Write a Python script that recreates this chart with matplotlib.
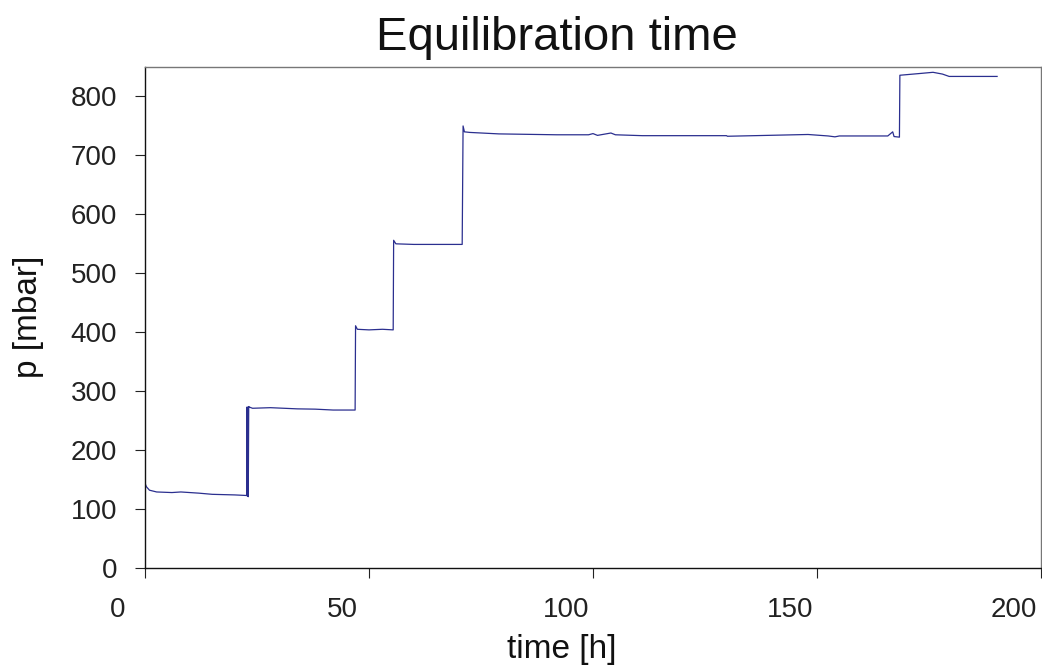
import matplotlib
matplotlib.use("Agg")
import matplotlib.pyplot as plt
import matplotlib.transforms as mtransforms

plt.rcParams['font.family'] = ['Liberation Sans', 'DejaVu Sans']

time_h = [0.0, 0.3, 1.0, 2.6, 6.0, 8.0, 12.0, 15.0, 20.0, 22.7,
          22.75, 22.85, 22.95, 23.05, 23.15, 23.3,
          24.0, 28.0, 34.0, 38.0, 42.0, 46.9,
          47.0, 47.4, 50.0, 53.0, 55.4,
          55.5, 56.0, 60.0, 66.0, 70.8,
          71.0, 71.3, 72.5, 79.0, 91.9, 99.0, 100.0, 101.0, 104.0, 105.0,
          111.0, 129.8, 130.0, 148.0, 152.5, 154.0, 155.0, 165.8, 166.9,
          167.2, 168.4,
          168.5, 170.0, 173.0, 175.9, 178.0, 179.5, 190.2]
pressure_mbar = [144, 138, 132, 129, 128, 129, 127, 125, 124, 123,
                 273, 122, 273, 121, 274, 273,
                 271, 272, 270, 269.5, 268, 268,
                 411, 405, 404, 405, 404,
                 556, 550, 549, 549, 549,
                 750, 740, 739, 736.5, 735, 735, 737, 734, 738, 735,
                 733.5, 733.5, 732.5, 735.5, 733, 731.5, 733, 733, 740,
                 732, 731,
                 836, 837, 839, 841, 838, 834, 834]

x_ticks = [0, 50, 100, 150, 200]
y_ticks = [0, 100, 200, 300, 400, 500, 600, 700, 800]

fig = plt.figure(figsize=(10.42, 6.67), dpi=100)
ax = fig.add_axes([145/1042, 1-568/667, 896/1042, 501/667])

ax.plot(time_h, pressure_mbar, color='#2b2f8f', lw=0.9)

ax.set_xlim(0, 200)
ax.set_ylim(0, 850)
ax.set_xticks(x_ticks)
ax.set_yticks(y_ticks)
ax.tick_params(axis='both', direction='out', length=7, width=0.8, colors='#222222', labelsize=20)
ax.tick_params(axis='y', pad=13)
ax.tick_params(axis='x', pad=14)
ax.tick_params(axis='x', which='both', top=False)
ax.tick_params(axis='y', which='both', right=False)

offset = mtransforms.ScaledTranslation(-27/100, 0, fig.dpi_scale_trans)
for lbl in ax.get_xticklabels():
    lbl.set_transform(lbl.get_transform() + offset)

for s in ['left', 'bottom']:
    ax.spines[s].set_color('#111111')
    ax.spines[s].set_linewidth(1.0)
for s in ['top', 'right']:
    ax.spines[s].set_color('#777777')
    ax.spines[s].set_linewidth(1.0)

fig.text(557/1042, 1-50/667, 'Equilibration time', ha='center', va='baseline',
         fontsize=34, color='#111111')
fig.text(562/1042, 1-658/667, 'time [h]', ha='center', va='baseline',
         fontsize=24, color='#111111')
fig.text(28/1042, 1-317/667, 'p [mbar]', ha='center', va='center', rotation=90,
         fontsize=24, color='#111111')

fig.savefig('out.png', dpi=100)
